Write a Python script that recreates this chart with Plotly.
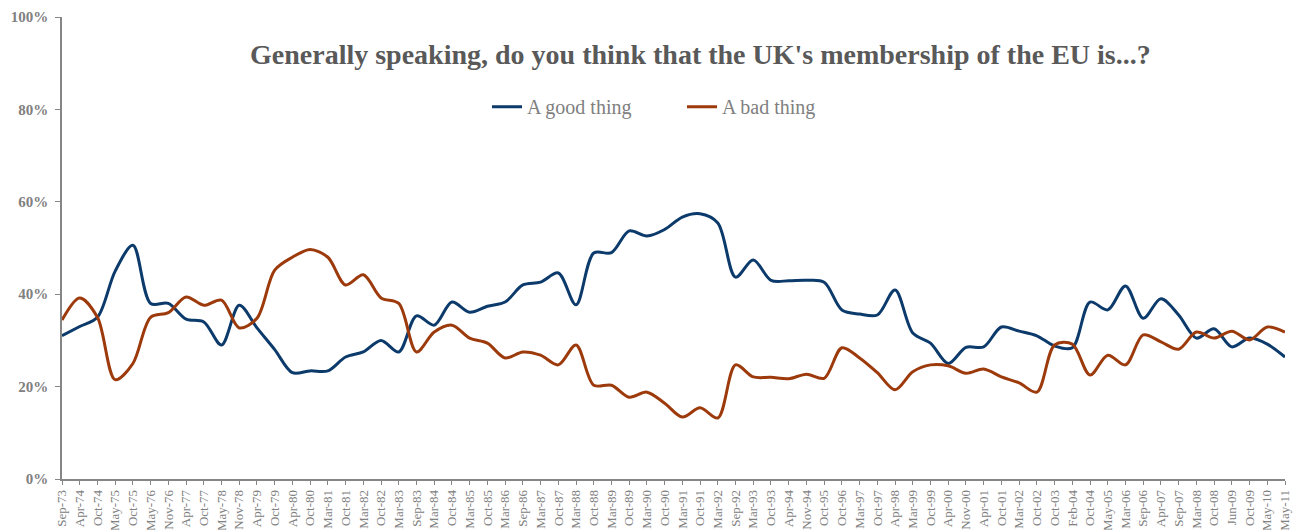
import plotly.graph_objects as go

months = ["Sep-73", "Apr-74", "Oct-74", "May-75", "Oct-75", "May-76", "Nov-76", "Apr-77", "Oct-77", "May-78",
          "Nov-78", "Apr-79", "Oct-79", "Apr-80", "Oct-80", "Mar-81", "Oct-81", "Mar-82", "Oct-82", "Mar-83",
          "Sep-83", "Mar-84", "Oct-84", "Mar-85", "Oct-85", "Mar-86", "Sep-86", "Mar-87", "Oct-87", "Mar-88",
          "Oct-88", "Mar-89", "Oct-89", "Mar-90", "Oct-90", "Mar-91", "Oct-91", "Mar-92", "Sep-92", "Mar-93",
          "Oct-93", "Apr-94", "Nov-94", "Oct-95", "Oct-96", "Mar-97", "Oct-97", "Apr-98", "Mar-99", "Oct-99",
          "Apr-00", "Nov-00", "Apr-01", "Oct-01", "Mar-02", "Oct-02", "Oct-03", "Feb-04", "Oct-04", "May-05",
          "Mar-06", "Sep-06", "Apr-07", "Sep-07", "Mar-08", "Oct-08", "Jun-09", "Oct-09", "May-10", "May-11"]

good_thing = [31, 33, 35, 45, 50.6, 38, 38, 34.6, 34, 29,
              37.6, 32.7, 28, 23, 23.4, 23.4, 26.4, 27.5, 30, 27.5,
              35.3, 33.3, 38.3, 36.1, 37.4, 38.3, 42, 42.6, 44.6, 37.7,
              48.9, 49, 53.7, 52.6, 54, 56.7, 57.4, 55.4, 43.7, 47.4,
              43, 42.9, 43, 42.6, 36.6, 35.7, 35.5, 40.9, 31.6, 29.4,
              25, 28.5, 28.6, 32.9, 32, 31, 28.8, 28.4, 38.3, 36.6,
              41.8, 34.8, 39, 35.5, 30.5, 32.5, 28.6, 30.5, 29.2, 26.4]

bad_thing = [34.4, 39.2, 35, 21.5, 25, 35, 36, 39.4, 37.6, 38.7,
             32.7, 34.8, 45.2, 48, 49.7, 48, 42, 44.2, 39.2, 38,
             27.5, 31.8, 33.3, 30.5, 29.4, 26.2, 27.5, 26.8, 24.7, 29,
             20.3, 20.3, 17.7, 18.8, 16.4, 13.4, 15.4, 13.2, 24.7, 22.1,
             22, 21.7, 22.7, 21.8, 28.4, 26.2, 23, 19.3, 23.2, 24.7,
             24.5, 22.9, 23.8, 22.1, 20.8, 18.8, 29, 29.2, 22.5, 26.8,
             24.7, 31.2, 29.7, 28.1, 31.8, 30.5, 32, 30.1, 32.9, 31.8]

y_ticks = [0, 20, 40, 60, 80, 100]

FONT = "'Liberation Serif', 'Times New Roman', serif"

fig = go.Figure()
fig.add_trace(go.Scatter(x=months, y=good_thing, name="A good thing", mode="lines",
                         line=dict(color="#0b3a6b", width=3, shape="spline", smoothing=0.9)))
fig.add_trace(go.Scatter(x=months, y=bad_thing, name="A bad thing", mode="lines",
                         line=dict(color="#9c3a0c", width=3, shape="spline", smoothing=0.9)))

fig.update_layout(
    width=1299, height=530,
    margin=dict(l=62, r=14, t=17, b=51),
    paper_bgcolor="white", plot_bgcolor="white",
    font=dict(family=FONT, color="#808080"),
    showlegend=True,
    legend=dict(orientation="h", x=(487 - 62) / 1223, y=0.806, xanchor="left", yanchor="middle",
                font=dict(family=FONT, size=20, color="#808080"), bgcolor="rgba(0,0,0,0)",
                entrywidth=150, entrywidthmode="pixels", itemwidth=30, traceorder="normal"),
    annotations=[dict(text="<b>Generally speaking, do you think that the UK's membership of the EU is...?</b>",
                      xref="paper", yref="paper", x=0.5217, y=0.918, xanchor="center", yanchor="middle",
                      showarrow=False, font=dict(family=FONT, size=28, color="#595959"))],
)

fig.update_xaxes(type="category", range=[0, len(months) - 1], showline=True, linecolor="#868686",
                 linewidth=1.5, ticks="outside", ticklen=4, tickcolor="#868686", tickangle=-90,
                 tickfont=dict(family=FONT, size=13, color="#808080"), showgrid=False, zeroline=False,
                 automargin=False)
fig.update_yaxes(range=[0, 100], tickvals=y_ticks, ticktext=[f"<b>{v}%</b>" for v in y_ticks],
                 showline=True, linecolor="#868686", linewidth=1.5, ticks="outside", ticklen=5,
                 tickcolor="#868686", tickfont=dict(family=FONT, size=15, color="#808080"),
                 ticklabelstandoff=4, showgrid=False, zeroline=False, automargin=False)

fig.write_html("out.html")
